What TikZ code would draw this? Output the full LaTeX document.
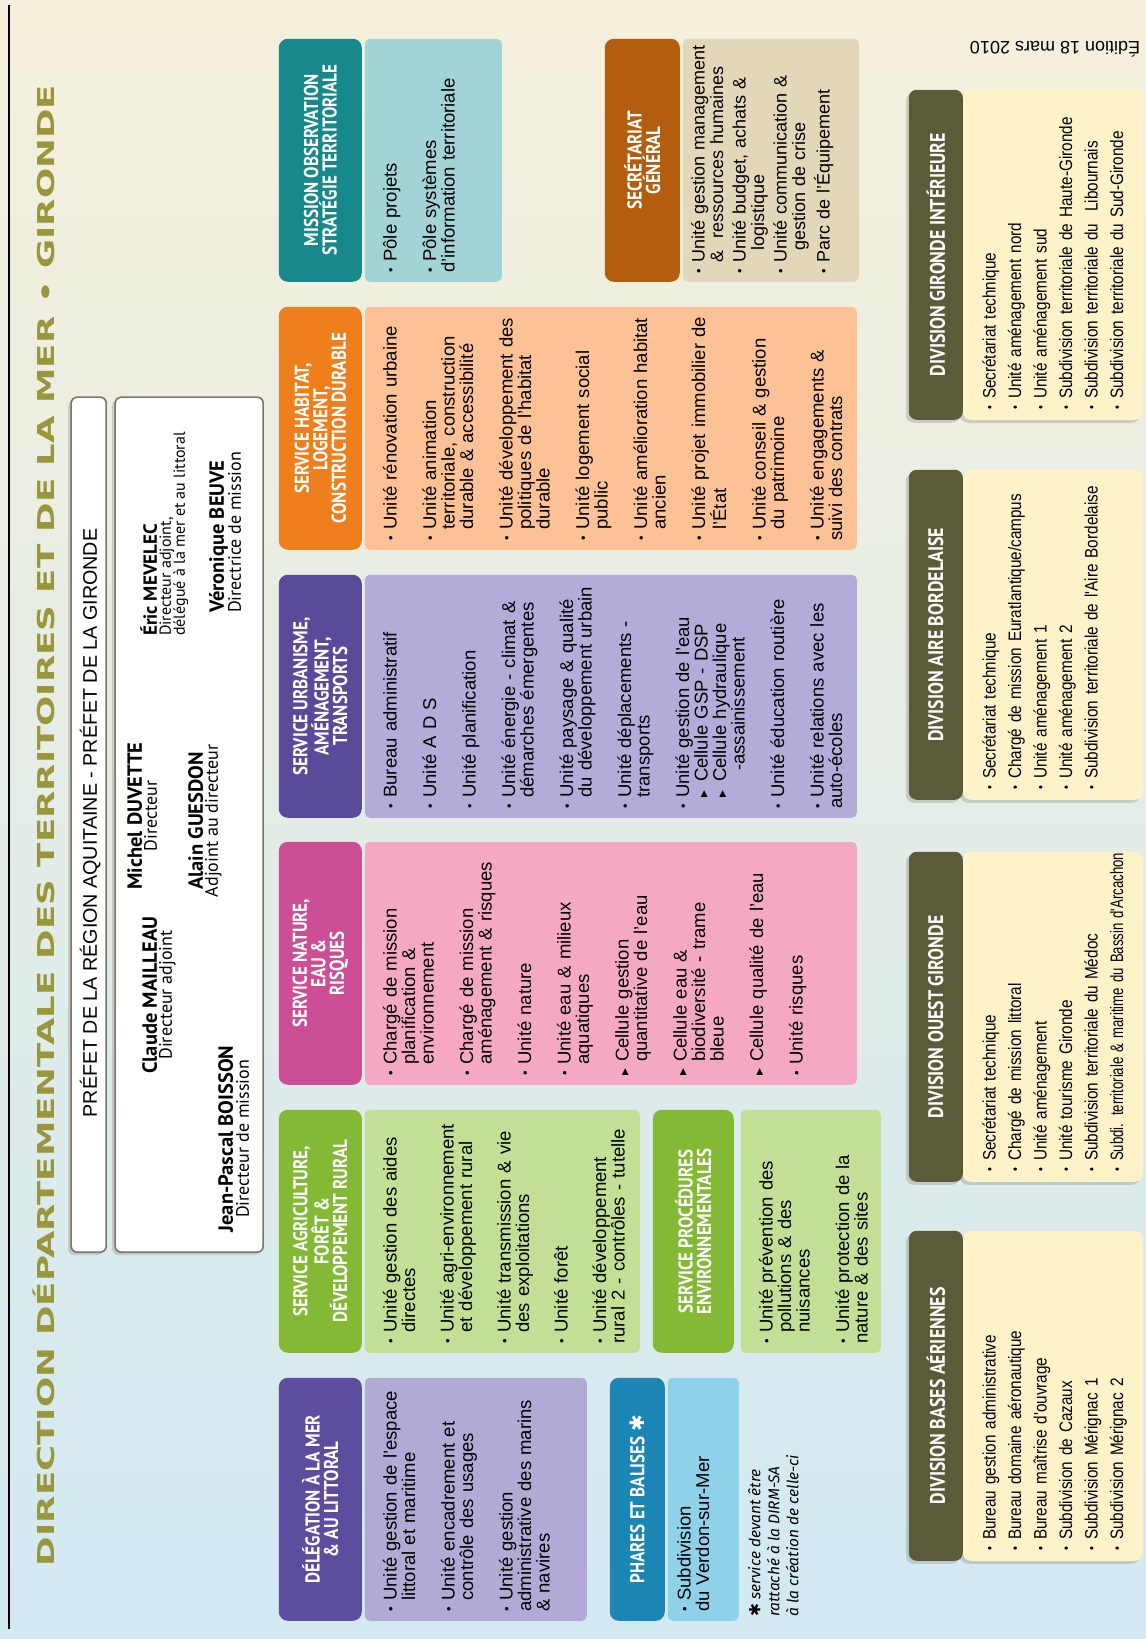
\documentclass[tikz,border=0pt]{standalone}
\usepackage{fontspec}
\setmainfont{Liberation Sans}
\newfontfamily\hdfont{PT Sans}[FakeStretch=0.85]
\newfontfamily\sbfont{PT Sans}
\newfontfamily\dvfont{Liberation Sans}[FakeStretch=0.85]
\newfontfamily\ttlfont{DejaVu Sans}
\newfontfamily\dvsymfont{DejaVu Sans}
\newfontfamily\noteff{Fira Sans}
\usetikzlibrary{shadows}
\hyphenpenalty=10000
\exhyphenpenalty=10000
\definecolor{titleolive}{HTML}{9A963C}
\definecolor{bgcream}{HTML}{F5F0DC}
\definecolor{bgmid}{HTML}{E6F1EA}
\definecolor{bgblue}{HTML}{D2E9F2}
\definecolor{boxline}{HTML}{7E7461}
\definecolor{delhd}{HTML}{5C4D9E}\definecolor{delbd}{HTML}{B1AAD4}
\definecolor{phahd}{HTML}{1B86B4}\definecolor{phabd}{HTML}{90D1EA}
\definecolor{agrhd}{HTML}{84B935}\definecolor{agrbd}{HTML}{C2DF95}
\definecolor{nathd}{HTML}{CC4E94}\definecolor{natbd}{HTML}{F4A8C3}
\definecolor{urbhd}{HTML}{5A4A9A}\definecolor{urbbd}{HTML}{B3ACD8}
\definecolor{habhd}{HTML}{EF7F1C}\definecolor{habbd}{HTML}{FCC195}
\definecolor{mishd}{HTML}{17898C}\definecolor{misbd}{HTML}{A2D3D6}
\definecolor{sechd}{HTML}{B35D0F}\definecolor{secbd}{HTML}{E3D7B9}
\definecolor{divhd}{HTML}{5B5A39}\definecolor{divbd}{HTML}{FEF2C9}
\newcommand\bul{\raisebox{1.5pt}{\fontsize{13}{13}\selectfont\textbullet}}
\newcommand\tri{\raisebox{1pt}{\dvsymfont\fontsize{9}{9}\selectfont ▶}}
\newcommand\itm[1]{\par\hangindent=0.6em\hangafter=1\noindent\hbox to 0.6em{\bul\hfil}#1}
\newcommand\citm[1]{\par\hangindent=0.75em\hangafter=1\noindent\hbox to 0.75em{\tri\hfil}#1}
\newcommand\sitm[1]{\par\vspace{-\parskip}\hangindent=1.45em\hangafter=1\noindent\hbox to 1.45em{\hspace{0.6em}\tri\hfil}#1}

\begin{document}
\begin{tikzpicture}[x=1pt,y=1pt,rotate=90,transform shape,
 hdr/.style={rounded corners=9pt,inner sep=0pt,anchor=south west,text=white,align=center,
  minimum width=243,font=\hdfont\bfseries\fontsize{20}{18.5}\selectfont},
 bdy/.style={rounded corners=5pt,inner sep=0pt,anchor=south west,minimum width=243},
 btxt/.style={anchor=north west,inner sep=0pt,align=left,text width=262,
  font=\fontsize{18.5}{18.5}\selectfont},
 shd/.style={drop shadow={shadow xshift=-3pt,shadow yshift=-3pt,opacity=0.3}},
 dvhd/.style={hdr,shd,fill=divhd,minimum width=330,minimum height=54,rounded corners=8pt,
  font=\hdfont\bfseries\fontsize{21}{21}\selectfont},
 dvbd/.style={bdy,shd,fill=divbd,minimum width=330,minimum height=180,rounded corners=8pt},
 dvtxt/.style={btxt,text width=340,font=\dvfont\fontsize{18}{25.5}\selectfont},
 wbox/.style={bdy,shd,fill=white,draw=boxline,line width=1.6pt,rounded corners=6pt,minimum width=855},
 prnm/.style={anchor=base,inner sep=0pt,font=\sbfont\bfseries\fontsize{20.5}{20.5}\selectfont},
 prsb/.style={anchor=base,inner sep=0pt,font=\sbfont\fontsize{18}{18}\selectfont}]
\useasboundingbox (0,0) rectangle (1639,1146);
\shade[top color=bgcream,middle color=bgmid,bottom color=bgblue] (0,0) rectangle (1639,1146);
\coordinate (lineA) at (10,1137);
\coordinate (lineB) at (1634,1137);
\draw[line width=1.4pt] (lineA) -- (lineB);
\node[anchor=base,inner sep=0pt,text=titleolive] (title) at (813.5,1091)
 {\resizebox{1481pt}{\height}{\ttlfont\bfseries\fontsize{23.3}{23.3}\selectfont
  DIRECTION DÉPARTEMENTALE DES TERRITOIRES ET DE LA MER • GIRONDE}};
\node[rotate=90,inner sep=0pt,font=\fontsize{18}{18}\selectfont] (edition) at (1590,91) {Édition 18 mars 2010};

% direction
\node[wbox,minimum height=35] (prefet) at (386,1039) {};
\node[anchor=base,inner sep=0pt,font=\fontsize{19.7}{19.7}\selectfont] (prefetT) at (816,1049)
 {PRÉFET DE LA RÉGION AQUITAINE - PRÉFET DE LA GIRONDE};
\node[wbox,minimum height=148] (direct) at (386,882) {};
\node[prnm] (duvN) at (823,1004) {Michel DUVETTE};
\node[prsb] (duvT) at (823,989) {Directeur};
\node[prnm] (gueN) at (818,943) {Alain GUESDON};
\node[prsb] (gueT) at (818,928) {Adjoint au directeur};
\node[prnm] (maiN) at (644,989) {Claude MAILLEAU};
\node[prsb] (maiT) at (644,974) {Directeur adjoint};
\node[prnm] (boiN) at (500,913) {Jean-Pascal BOISSON};
\node[prsb] (boiT) at (500,897) {Directeur de mission};
\node[prnm,anchor=base west,font=\sbfont\bfseries\fontsize{19}{19}\selectfont] (mevN) at (1003,989) {Éric MEVELEC};
\node[prsb,anchor=base west,font=\sbfont\fontsize{16}{16}\selectfont] (mevT) at (1003,975) {Directeur adjoint,};
\node[prsb,anchor=base west,font=\sbfont\fontsize{16}{16}\selectfont] (mevU) at (1003,961) {délégué à la mer et au littoral};
\node[prnm,anchor=base west] (beuN) at (1026,922) {Véronique BEUVE};
\node[prsb,anchor=base west] (beuT) at (1026,905) {Directrice de mission};

% services
\node[hdr,fill=delhd,minimum height=83] (delH) at (18,784) {DÉLÉGATION À LA MER\\\& AU LITTORAL};
\node[bdy,fill=delbd,minimum height=222] (delB) at (18,559) {};
\node[btxt] (delT) at (27,768) {%
 \itm{Unité gestion de l'espace\newline littoral et maritime}\setlength\parskip{21pt}
 \itm{Unité encadrement et\newline contrôle des usages}
 \itm{Unité gestion\newline administrative des marins\newline \& navires}};
\node[hdr,fill=phahd,minimum height=55] (phaH) at (18,481) {PHARES ET BALISES {\dvsymfont ✱}};
\node[bdy,fill=phabd,minimum height=71] (phaB) at (18,407) {};
\node[btxt] (phaT) at (27,474) {\itm{Subdivision\newline du Verdon-sur-Mer}};
\node[anchor=north west,inner sep=0pt,align=left,font=\noteff\itshape\fontsize{15.5}{19}\selectfont] (phaN) at (22,398)
 {{\dvsymfont\upshape ✱} service devant être\\ rattaché à la DIRM-SA\\à la création de celle-ci};

\node[hdr,fill=agrhd,minimum height=83] (agrH) at (286,784) {SERVICE AGRICULTURE,\\FORÊT \&\\DÉVELOPPEMENT RURAL};
\node[bdy,fill=agrbd,minimum height=275] (agrB) at (286,506) {};
\node[btxt] (agrT) at (295,768) {%
 \itm{Unité gestion des aides\newline directes}\setlength\parskip{20pt}
 \itm{Unité agri-environnement\newline et développement rural}
 \itm{Unité transmission \& vie\newline des exploitations}
 \itm{Unité forêt}
 \itm{Unité développement\newline rural 2 - contrôles - tutelle}};
\node[hdr,fill=agrhd,minimum height=81] (proH) at (286,412) {SERVICE PROCÉDURES\\ENVIRONNEMENTALES};
\node[bdy,fill=agrbd,minimum height=140] (proB) at (286,265) {};
\node[btxt] (proT) at (295,392) {%
 \itm{Unité prévention des\newline pollutions \& des\newline nuisances}\setlength\parskip{21pt}
 \itm{Unité protection de la\newline nature \& des sites}};

\node[hdr,fill=nathd,minimum height=83] (natH) at (554,784) {SERVICE NATURE,\\EAU \&\\RISQUES};
\node[bdy,fill=natbd,minimum height=492] (natB) at (554,289) {};
\node[btxt] (natT) at (563,768) {%
 \itm{Chargé de mission\newline planification \&\newline environnement}\setlength\parskip{21pt}
 \itm{Chargé de mission\newline aménagement \& risques}
 \itm{Unité nature}
 \itm{Unité eau \& milieux\newline aquatiques}
 \citm{Cellule gestion\newline quantitative de l'eau}
 \citm{Cellule eau \&\newline biodiversité - trame\newline bleue}
 \citm{Cellule qualité de l'eau}
 \itm{Unité risques}};

\node[hdr,fill=urbhd,minimum height=83] (urbH) at (821,784) {SERVICE URBANISME,\\AMÉNAGEMENT,\\TRANSPORTS};
\node[bdy,fill=urbbd,minimum height=492] (urbB) at (821,289) {};
\node[btxt] (urbT) at (830,768) {%
 \itm{Bureau administratif}\setlength\parskip{21pt}
 \itm{Unité A D S}
 \itm{Unité planification}
 \itm{Unité énergie - climat \&\newline démarches émergentes}
 \itm{Unité paysage \& qualité\newline du développement urbain}
 \itm{Unité déplacements -\newline transports}
 \itm{Unité gestion de l'eau}
 \sitm{Cellule GSP - DSP}
 \sitm{Cellule hydraulique\newline\hspace*{0.6em}-assainissement}
 \itm{Unité éducation routière}
 \itm{Unité relations avec les\newline auto-écoles}};

\node[hdr,fill=habhd,minimum height=83] (habH) at (1089,784) {SERVICE HABITAT,\\LOGEMENT,\\CONSTRUCTION DURABLE};
\node[bdy,fill=habbd,minimum height=492] (habB) at (1089,289) {};
\node[btxt] (habT) at (1098,768) {%
 \itm{Unité rénovation urbaine}\setlength\parskip{21pt}
 \itm{Unité animation\newline territoriale, construction\newline durable \& accessibilité}
 \itm{Unité développement des\newline politiques de l'habitat\newline durable}
 \itm{Unité logement social\newline public}
 \itm{Unité amélioration habitat\newline ancien}
 \itm{Unité projet immobilier de\newline l'État}
 \itm{Unité conseil \& gestion\newline du patrimoine}
 \itm{Unité engagements \&\newline suivi des contrats}};

\node[hdr,fill=mishd,minimum height=83] (misH) at (1357,784) {MISSION OBSERVATION\\STRATÉGIE TERRITORIALE};
\node[bdy,fill=misbd,minimum height=137] (misB) at (1357,644) {};
\node[btxt] (misT) at (1366,768) {%
 \itm{Pôle projets}\setlength\parskip{21pt}
 \itm{Pôle systèmes\newline d'information territoriale}};
\node[hdr,fill=sechd,minimum height=75] (secH) at (1357,466) {SECRÉTARIAT\\GÉNÉRAL};
\node[bdy,fill=secbd,minimum height=176] (secB) at (1357,287) {};
\node[btxt,font=\fontsize{18}{18.5}\selectfont] (secT) at (1365,460) {%
 \itm{Unité gestion management\newline\& \ ressources humaines}\setlength\parskip{4pt}
 \itm{Unité budget, achats \&\newline\hspace*{0.7em}logistique}
 \itm{Unité communication \&\newline\hspace*{0.7em}gestion de crise}
 \itm{Parc de l'Équipement}};

% divisions
\node[dvbd] (basB) at (78,3) {};
\node[dvhd] (basH) at (78,183) {DIVISION BASES AÉRIENNES};
\node[dvtxt] (basT) at (88,176) {\itm{Bureau gestion administrative}
 \itm{Bureau domaine aéronautique}
 \itm{Bureau maîtrise d'ouvrage}
 \itm{Subdivision de Cazaux}
 \itm{Subdivision Mérignac 1}
 \itm{Subdivision Mérignac 2}};
\node[dvbd] (oueB) at (457,3) {};
\node[dvhd] (oueH) at (457,183) {DIVISION OUEST GIRONDE};
\node[dvtxt] (ouesT) at (467,176) {\itm{Secrétariat technique}
 \itm{Chargé de mission littoral}
 \itm{Unité aménagement}
 \itm{Unité tourisme Gironde}
 \itm{Subdivision territoriale du Médoc}
 \itm{\scalebox{0.86}[1]{Subdi. territoriale \& maritime du Bassin d'Arcachon}}};
\node[dvbd] (airB) at (839,3) {};
\node[dvhd] (airH) at (839,183) {DIVISION AIRE BORDELAISE};
\node[dvtxt] (airT) at (849,176) {\itm{Secrétariat technique}
 \itm{Chargé de mission Euratlantique/campus}
 \itm{Unité aménagement 1}
 \itm{Unité aménagement 2}
 \itm{Subdivision territoriale de l'Aire Bordelaise}};
\node[dvbd] (girB) at (1219,3) {};
\node[dvhd] (girH) at (1219,183) {DIVISION GIRONDE INTÉRIEURE};
\node[dvtxt] (girT) at (1229,176) {\itm{Secrétariat technique}
 \itm{Unité aménagement nord}
 \itm{Unité aménagement sud}
 \itm{Subdivision territoriale de Haute-Gironde}
 \itm{Subdivision territoriale du\ \ Libournais}
 \itm{Subdivision territoriale du Sud-Gironde}};
\end{tikzpicture}
\end{document}
